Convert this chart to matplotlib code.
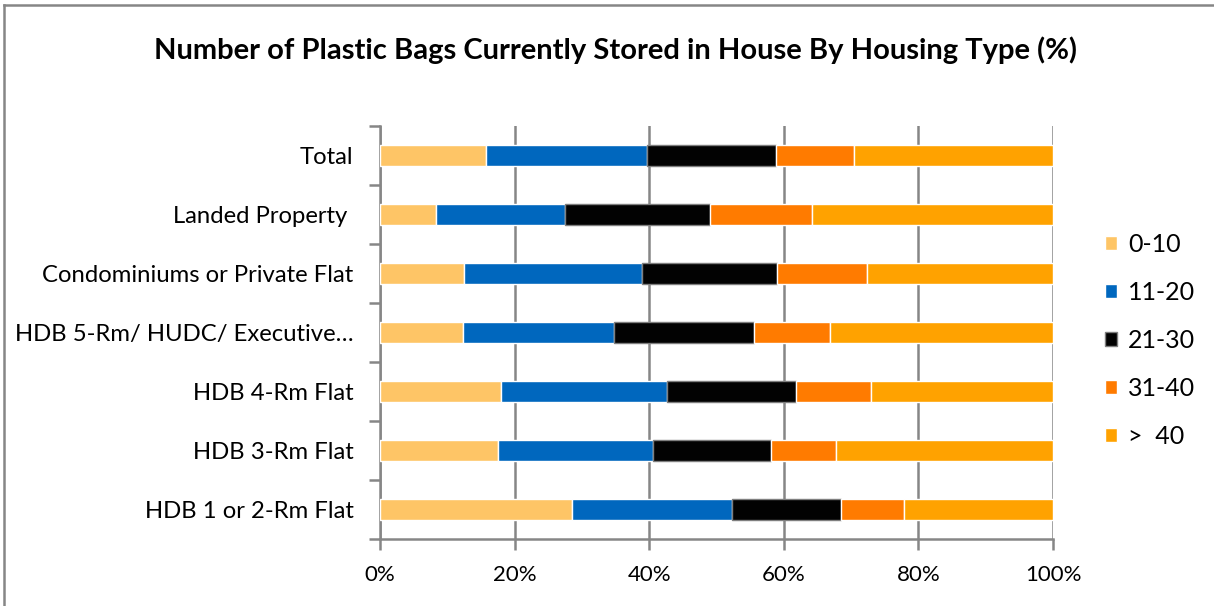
import numpy as np
import matplotlib
matplotlib.use("Agg")
import matplotlib.pyplot as plt
from matplotlib.lines import Line2D
from matplotlib.ticker import FixedLocator, PercentFormatter

plt.rcParams['font.family'] = ['Lato', 'DejaVu Sans']

categories = [
    "Total",
    "Landed Property ",
    "Condominiums or Private Flat",
    "HDB 5-Rm/ HUDC/ Executive\u2026",
    "HDB 4-Rm Flat",
    "HDB 3-Rm Flat",
    "HDB 1 or 2-Rm Flat",
]
bands = ["0-10", "11-20", "21-30", "31-40", ">  40"]

# share of households (%) per band, one list per band, in category order
share_0_10 = [15.8, 8.3, 12.5, 12.3, 18.0, 17.6, 28.5]
share_11_20 = [23.9, 19.2, 26.5, 22.5, 24.7, 22.9, 23.8]
share_21_30 = [19.2, 21.5, 20.0, 20.8, 19.1, 17.6, 16.2]
share_31_40 = [11.5, 15.2, 13.4, 11.2, 11.1, 9.6, 9.3]
share_over_40 = [29.6, 35.8, 27.6, 33.2, 27.1, 32.3, 22.2]

colors = ["#FEC566", "#0067BE", "#020202", "#FF7B00", "#FFA200"]
series = [share_0_10, share_11_20, share_21_30, share_31_40, share_over_40]

fig = plt.figure(figsize=(12.14, 6.06), dpi=100)
ax = fig.add_axes([380 / 1214, 1 - 539 / 606, (1053 - 380) / 1214, (539 - 126) / 606])

y = np.arange(len(categories))
left = np.zeros(len(categories))
for vals, col, lab in zip(series, colors, bands):
    vals = np.array(vals)
    ax.barh(y, vals, left=left, height=0.36, color=col,
            edgecolor="#7F7F7F" if col == "#020202" else "white",
            linewidth=1.0, label=lab, zorder=3)
    left += vals

ax.set_ylim(len(categories) - 0.5, -0.5)
ax.set_xlim(0, 100)

ax.set_yticks(y)
ax.set_yticklabels(categories, fontsize=17.2)
ax.yaxis.set_minor_locator(FixedLocator(np.arange(-0.5, len(categories), 1.0)))
ax.tick_params(axis="y", which="major", length=0, pad=19)
ax.tick_params(axis="y", which="minor", length=8, width=1.8, color="#868686")

ax.set_xticks(np.arange(0, 101, 20))
ax.xaxis.set_major_formatter(PercentFormatter(decimals=0))
ax.tick_params(axis="x", length=8, width=1.8, color="#868686", labelsize=16, pad=11)

ax.grid(axis="x", color="#868686", linewidth=1.8, zorder=0)
for side in ("top", "right"):
    ax.spines[side].set_visible(False)
for side in ("left", "bottom"):
    ax.spines[side].set_color("#868686")
    ax.spines[side].set_linewidth(1.8)

handles, labels = ax.get_legend_handles_labels()
leg = fig.legend(handles, labels, loc="upper left", bbox_to_anchor=(1082 / 1214, 1 - 210 / 606),
                 frameon=False, fontsize=18, handlelength=0.5, handleheight=0.5,
                 handletextpad=0.45, labelspacing=1.0)

fig.text(0.507, 1 - 50 / 606, "Number of Plastic Bags Currently Stored in House By Housing Type (%)",
         ha="center", va="center", fontsize=21, fontweight="bold")

# chart frame along the top and left edges
fig.add_artist(Line2D([4 / 1214, 4 / 1214], [0, 1 - 5 / 606], transform=fig.transFigure,
                      color="#868686", linewidth=1.8))
fig.add_artist(Line2D([4 / 1214, 1], [1 - 5 / 606, 1 - 5 / 606], transform=fig.transFigure,
                      color="#868686", linewidth=1.8))

fig.savefig("out.png", dpi=100, facecolor="white")
